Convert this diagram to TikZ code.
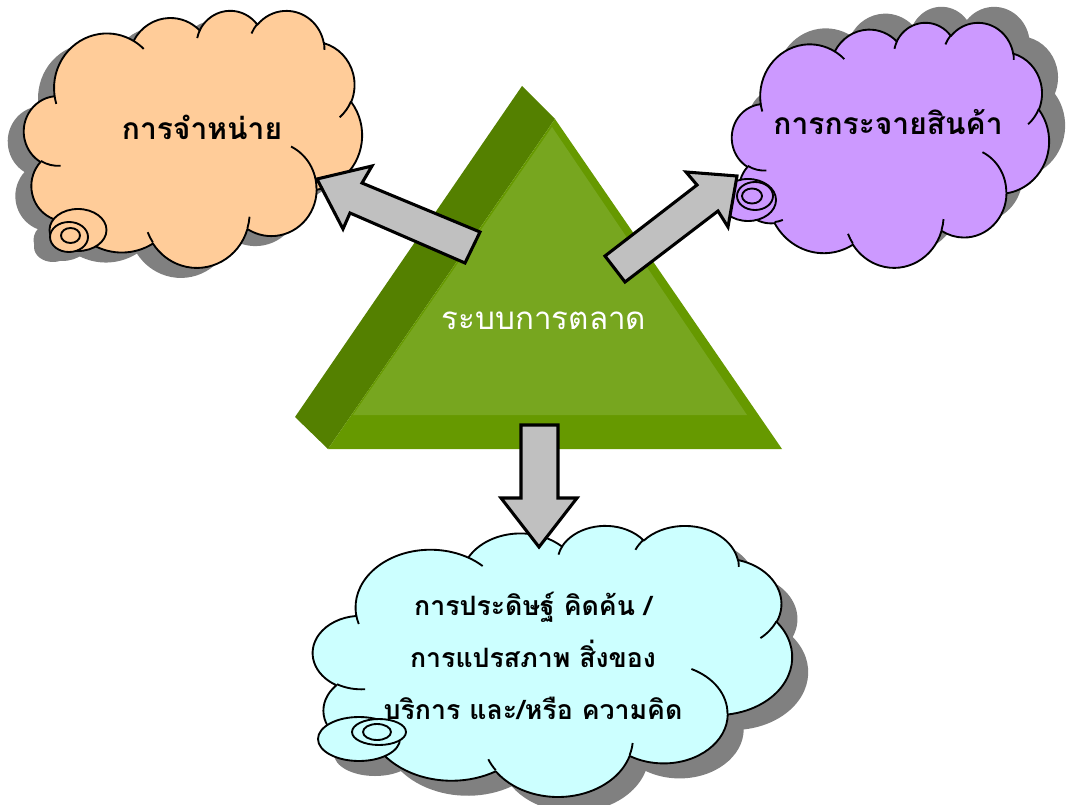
\documentclass[tikz,border=0pt]{standalone}
\usepackage{fontspec}
\newfontfamily\thaifont[Script=Thai]{Loma}

\definecolor{peach}{HTML}{FFCC99}
\definecolor{lilac}{HTML}{CC99FF}
\definecolor{paleaqua}{HTML}{CCFFFF}
\definecolor{shadowgray}{HTML}{808080}
\definecolor{arrowgray}{HTML}{C0C0C0}
\definecolor{greenside}{HTML}{548000}
\definecolor{greenbevel}{HTML}{669900}
\definecolor{greenface}{HTML}{77A61F}

% elliptical arc from the current point; start and sweep are visual angles
\newcommand\cldarc[4]{%
  \pgfextra{%
    \pgfmathsetmacro\cldS{atan2((#1)*sin(#3),(#2)*cos(#3))}%
    \pgfmathsetmacro\cldE{atan2((#1)*sin((#3)+(#4)),(#2)*cos((#3)+(#4)))}%
    \pgfmathsetmacro\cldD{mod(\cldE-\cldS+720,360)}%
    \xdef\cldS{\cldS}\xdef\cldD{\cldD}%
  }%
  arc[start angle=\cldS, delta angle=\cldD, x radius=#1, y radius=#2]}

% cloud outline in a 432 x 432 box, y pointing down
\newcommand\cloudoutline{%
  (39.00,143.70)
  \cldarc{67.53}{91.90}{-190.4875}{123.7805}
  \cldarc{53.33}{72.67}{-144.1024}{89.9452}
  \cldarc{43.65}{59.45}{-145.8079}{99.7230}
  \cldarc{48.57}{65.95}{-130.9861}{117.2417}
  \cldarc{53.33}{72.73}{-78.7089}{109.0269}
  \cldarc{67.75}{92.20}{-46.2673}{130.2690}
  \cldarc{57.85}{78.67}{0.6250}{114.0333}
  \cldarc{67.52}{92.15}{22.4516}{115.1726}
  \cldarc{77.20}{105.43}{66.2426}{75.7110}
  \cldarc{43.60}{59.18}{-274.9421}{146.7356}
  \cldarc{43.45}{59.45}{-246.8285}{152.5189}
  -- cycle}

% the short inner creases between the puffs
\newcommand\cloudcreases{%
  (46.93,261.77) \cldarc{43.45}{59.45}{86.7420}{26.4295}
  (69.28,348.99) \cldarc{43.60}{59.18}{73.6105}{11.4475}
  (164.78,390.90) \cldarc{67.52}{92.15}{137.6242}{14.0811}
  (288.27,347.51) \cldarc{67.52}{92.15}{6.4533}{15.9984}
  (341.29,229.54) \cldarc{57.85}{78.67}{-70.2924}{70.9174}
  (417.98,153.54) \cldarc{53.33}{72.73}{30.3180}{27.7515}
  (383.24,54.26) \cldarc{48.57}{65.95}{-13.7443}{14.8589}
  (290.78,39.52) \cldarc{48.57}{65.95}{-149.1815}{18.1954}
  (221.41,47.20) \cldarc{43.65}{59.45}{-163.4943}{17.6864}
  (140.00,51.92) \cldarc{67.53}{91.90}{-66.7070}{12.3194}
  (41.27,157.89) \cldarc{67.53}{91.90}{157.6544}{11.8582}}

\tikzset{
  cloudline/.style={draw=black, line width=1.4pt, line join=round},
  blockarrow/.style={draw=black, fill=arrowgray, line width=2.3pt, line join=miter},
  cloudtext/.style={font=\thaifont\bfseries\fontsize{20}{39}\selectfont, text=black, inner sep=0pt},
  bigcloudtext/.style={cloudtext, font=\thaifont\bfseries\fontsize{22.5}{27}\selectfont},
  tritext/.style={font=\thaifont\fontsize{23.5}{28}\selectfont, text=white, inner sep=0pt}
}

\begin{document}
\begin{tikzpicture}[x=0.75pt, y=-0.75pt]
\useasboundingbox (0,0) rectangle (1066,805);

% ---------- shadows ----------
\begin{scope}[shift={(8,20)}, xscale=0.78241, yscale=0.59491]
  \fill[shadowgray] \cloudoutline;
\end{scope}
\fill[shadowgray] (62,240) ellipse [x radius=28.5, y radius=21];
\fill[shadowgray] (53,247) ellipse [x radius=19, y radius=15];

\begin{scope}[shift={(748,6)}, xscale=0.73380, yscale=0.56713]
  \fill[shadowgray] \cloudoutline;
\end{scope}

\begin{scope}[shift={(329,540)}, xscale=1.10880, yscale=0.62731]
  \fill[shadowgray] \cloudoutline;
\end{scope}
\fill[shadowgray] (375,754) ellipse [x radius=41, y radius=22];
\fill[shadowgray] (395,747) ellipse [x radius=27, y radius=13];

% ---------- clouds ----------
\begin{scope}[shift={(24,10)}, xscale=0.78241, yscale=0.59491]
  \path[cloudline, fill=peach] \cloudoutline;
  \path[cloudline] \cloudcreases;
\end{scope}
\draw[cloudline, fill=peach] (78,230) ellipse [x radius=28.5, y radius=21];
\draw[cloudline, fill=peach] (69,237) ellipse [x radius=19, y radius=15];
\draw[cloudline, fill=peach] (70.5,235.5) ellipse [x radius=9.5, y radius=7.5];

\begin{scope}[shift={(732,22)}, xscale=0.73380, yscale=0.56713]
  \path[cloudline, fill=lilac] \cloudoutline;
  \path[cloudline] \cloudcreases;
\end{scope}
\draw[cloudline, fill=lilac] (748,200) ellipse [x radius=28, y radius=21];
\draw[cloudline, fill=lilac] (755,196) ellipse [x radius=18, y radius=14];
\draw[cloudline, fill=lilac] (752,196) ellipse [x radius=10, y radius=7.5];

\begin{scope}[shift={(313,525)}, xscale=1.10880, yscale=0.62731]
  \path[cloudline, fill=paleaqua] \cloudoutline;
  \path[cloudline] \cloudcreases;
\end{scope}
\draw[cloudline, fill=paleaqua] (359,739) ellipse [x radius=41, y radius=22];
\draw[cloudline, fill=paleaqua] (379,732) ellipse [x radius=27, y radius=13];
\draw[cloudline, fill=paleaqua] (377,732) ellipse [x radius=14, y radius=8];

% ---------- bevelled triangle ----------
\coordinate (backtop) at (522,86);
\coordinate (backleft) at (295,417);
\coordinate (fronttop) at (555,119);
\coordinate (frontleft) at (328,449);
\coordinate (frontright) at (782,449);
\coordinate (innertop) at (552,127);
\coordinate (innerleft) at (353,415);
\coordinate (innerright) at (747,415);
\fill[greenside] (backtop) -- (fronttop) -- (frontleft) -- (backleft) -- cycle;
\fill[greenbevel] (fronttop) -- (frontright) -- (frontleft) -- cycle;
\fill[greenface] (innertop) -- (innerright) -- (innerleft) -- cycle;

% ---------- block arrows ----------
\draw[blockarrow] (480,232) -- (362,183) -- (372,166) -- (317,179)
  -- (343,229) -- (350,213) -- (465,263) -- cycle;
\draw[blockarrow] (605,256) -- (697,185) -- (686,172) -- (737,176)
  -- (728,227) -- (718,211) -- (625,282) -- cycle;
\draw[blockarrow] (521,425) -- (558,425) -- (558,498) -- (577,498)
  -- (539,547) -- (501,498) -- (521,498) -- cycle;

% ---------- labels ----------
\node[bigcloudtext] (sales) at (202,127) {การจำหน่าย};
\node[bigcloudtext] (distribution) at (888,122) {การกระจายสินค้า};
\node[tritext] (marketing) at (544,321) {ระบบการตลาด};
\node[cloudtext, align=center] (creation) at (533,656)
  {การประดิษฐ์ คิดค้น /\\การแปรสภาพ สิ่งของ\\บริการ และ/หรือ ความคิด};
\end{tikzpicture}
\end{document}
